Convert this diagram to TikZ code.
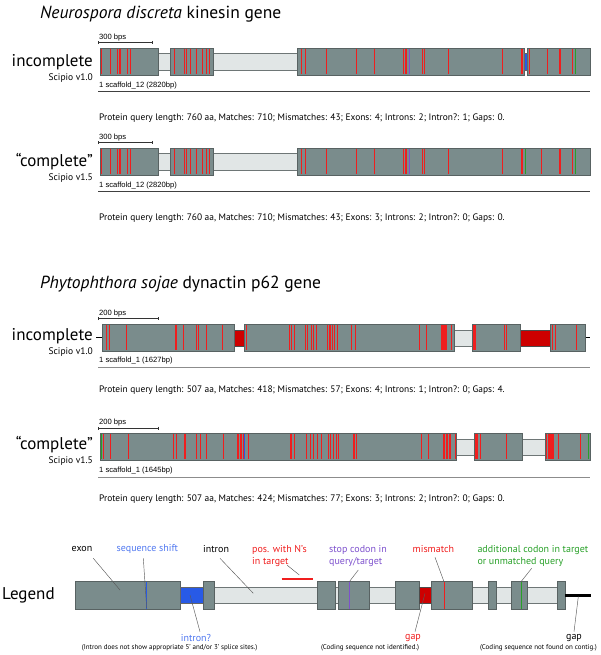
\documentclass[tikz,border=0pt]{standalone}
\usepackage{fontspec}
\setmainfont{PT Sans}
\newfontfamily\arialf{Liberation Sans}
\usetikzlibrary{arrows.meta}
\definecolor{exonc}{RGB}{122,140,140}
\definecolor{exonb}{RGB}{88,98,98}
\definecolor{intronc}{RGB}{225,230,230}
\definecolor{intronb}{RGB}{110,118,118}
\definecolor{mmred}{RGB}{240,30,30}
\definecolor{gapc}{RGB}{205,0,0}
\definecolor{qblue}{RGB}{40,90,230}
\definecolor{lblue}{RGB}{80,120,240}
\definecolor{stopc}{RGB}{125,80,205}
\definecolor{addg}{RGB}{40,160,40}
\definecolor{leadc}{RGB}{90,90,90}
\newcommand\mmlines[4][mm]{\foreach \xx in {#4} {\pgfmathsetmacro\xr{floor(\xx)+0.5}\draw[#1] (\xr,#2) -- (\xr,#3);}}
\tikzset{
  exon/.style={fill=exonc, draw=exonb, line width=0.6pt},
  intr/.style={fill=intronc, draw=intronb, line width=0.6pt},
  gapbox/.style={fill=gapc, draw=black!70, line width=0.5pt},
  qbox/.style={fill=qblue, draw=black!60, line width=0.4pt},
  mm/.style={draw=mmred, line width=1.6pt},
  stopl/.style={draw=stopc, line width=1.5pt},
  addl/.style={draw=addg, line width=1.5pt},
  shiftl/.style={draw=qblue, line width=1.2pt},
  scalebar/.style={draw=black!80, line width=0.6pt, {Bar[width=3pt]}-{Bar[width=3pt]}},
  scafd/.style={draw=black!75, line width=1pt},
  scafl/.style={draw=black!45, line width=1pt},
  lead/.style={draw=leadc, line width=0.45pt},
  small/.style={font=\arialf\fontsize{7.6}{9}\selectfont, inner sep=0pt, anchor=south west},
  gtitle/.style={font=\fontsize{17.5}{20}\selectfont, inner sep=0pt, anchor=west},
  vlabel/.style={font=\fontsize{17}{20}\selectfont, inner sep=0pt, anchor=east},
  vsub/.style={font=\fontsize{9.5}{11}\selectfont, inner sep=0pt, anchor=east},
  stats/.style={font=\fontsize{9.4}{11}\selectfont, inner sep=0pt, anchor=west},
  leg/.style={font=\fontsize{10}{12}\selectfont, inner sep=0pt, anchor=west, align=left},
  note/.style={font=\fontsize{7}{8}\selectfont, inner sep=0pt},
}
\begin{document}
\begin{tikzpicture}[x=1pt,y=-1pt]
\useasboundingbox (0,0) rectangle (600,655);

% ================= Section 1 =================
\node[gtitle] (t1) at (40,14) {\textit{Neurospora discreta} kinesin gene};

% ---- Track 1 ----
\node[vlabel] (l1) at (93,62) {incomplete};
\node[vsub] (s1) at (93,78) {Scipio v1.0};
\node[small] (bp1) at (99,41) {300 bps};
\draw[scalebar] (98,42.5) -- (153,42.5);
\draw[intr] (157,53) rectangle (297,70);
\draw[exon] (100,48) rectangle (158,75);
\draw[exon] (170,48) rectangle (213,75);
\draw[exon] (297,48) rectangle (524,75);
\draw[exon] (527,48) rectangle (590,75);
\draw[qbox] (524,53) rectangle (527,70);
\mmlines{48.6}{74.4}{101,110.7,117.3,119,120.7,127.3,130}
\mmlines{48.6}{74.4}{174,184.3,186.7,190,196,202.3,206.7,209}
\mmlines{48.6}{74.4}{301.7,305,326,356,374.3,403.3,405,406,422.7,424.3,448.3,502.3,521,522.7}
\mmlines[stopl]{48.6}{74.4}{409.3}
\mmlines{48.6}{74.4}{529,547.3,559.3,560.3,572.3}
\mmlines[addl]{48.6}{74.4}{575.7}
\node[small] (sc1) at (99,89) {1 scaffold\_12 (2820bp)};
\draw[scafd] (98,91.5) -- (590,91.5);
\node[stats] (p1) at (99,118) {Protein query length: 760 aa, Matches: 710; Mismatches: 43; Exons: 4; Introns: 2; Intron?: 1; Gaps: 0.};

% ---- Track 2 ----
\node[vlabel] (l2) at (93,162) {“complete”};
\node[vsub] (s2) at (93,178) {Scipio v1.5};
\node[small] (bp2) at (99,141) {300 bps};
\draw[scalebar] (98,142.5) -- (153,142.5);
\draw[intr] (157,153) rectangle (297,170);
\draw[exon] (100,148) rectangle (158,175);
\draw[exon] (170,148) rectangle (213,175);
\draw[exon] (297,148) rectangle (590,175);
\mmlines{148.6}{174.4}{101,110.7,117.3,119,120.7,127.3,130}
\mmlines{148.6}{174.4}{174,184.3,186.7,190,196,202.3,206.7,209}
\mmlines{148.6}{174.4}{301.7,305,326,356,374.3,403.3,405,406,422.7,424.3,448.3,502.3,521,522.7}
\mmlines[stopl]{148.6}{174.4}{409.3}
\mmlines[addl]{148.6}{174.4}{525.5}
\mmlines{148.6}{174.4}{541,559.3,560.3,572.3}
\mmlines[addl]{148.6}{174.4}{575.7}
\node[small] (sc2) at (99,189) {1 scaffold\_12 (2820bp)};
\draw[scafd] (98,191.5) -- (590,191.5);
\node[stats] (p2) at (99,218) {Protein query length: 760 aa, Matches: 710; Mismatches: 43; Exons: 3; Introns: 2; Intron?: 0; Gaps: 0.};

% ================= Section 2 =================
\node[gtitle] (t2) at (40,284) {\textit{Phytophthora sojae} dynactin p62 gene};

% ---- Track 3 ----
\node[vlabel] (l3) at (93,336) {incomplete};
\node[vsub] (s3) at (93,352) {Scipio v1.0};
\node[small] (bp3) at (99,317) {200 bps};
\draw[scalebar] (98,318.5) -- (159,318.5);
\draw[line width=1.5pt] (96,337.5) -- (102.7,337.5);
\draw[line width=1.5pt] (585.7,337.5) -- (590,337.5);
\draw[intr] (454,330) rectangle (472.3,346);
\draw[gapbox] (234,330) rectangle (244.6,346);
\draw[gapbox] (520,330) rectangle (550.7,346);
\draw[exon] (102.7,324) rectangle (234,351);
\draw[exon] (244.6,324) rectangle (454,351);
\draw[exon] (472.3,324) rectangle (520,351);
\draw[exon] (550.7,324) rectangle (585.7,351);
\mmlines{324.6}{350.4}{106,109,126.7,175,176.5,183.3,196,198.3,206,222.3}
\mmlines{324.6}{350.4}{246.7,289,291,294,305,307.3,311,313.3,316.7,327.3,329.3,330.7,332.7,334.3,337.3,351.7,355,419.3,426.7,441.7,442.7,443.7,444.7,445.7,446.7,451.7}
\mmlines{324.6}{350.4}{473.5,474.5,475.5,504.3,506.7}
\mmlines{324.6}{350.4}{552.3,555,576.7}
\node[small] (sc3) at (99,364.5) {1 scaffold\_1 (1627bp)};
\draw[scafl] (98,367) -- (590,367);
\node[stats] (p3) at (99,390) {Protein query length: 507 aa, Matches: 418; Mismatches: 57; Exons: 4; Introns: 1; Intron?: 0; Gaps: 4.};

% ---- Track 4 ----
\node[vlabel] (l4) at (93,445) {“complete”};
\node[vsub] (s4) at (93,461) {Scipio v1.5};
\node[small] (bp4) at (99,426.5) {200 bps};
\draw[scalebar] (98,428) -- (159,428);
\draw[intr] (456,439) rectangle (545,455);
\draw[exon] (100,433) rectangle (456,460);
\draw[exon] (474.3,433) rectangle (522.7,460);
\draw[exon] (545,433) rectangle (590,460);
\mmlines[addl]{433.6}{459.4}{101.5}
\mmlines{433.6}{459.4}{103.3,110.7,128.3,173.3,176,184.3,185.7,196.7,200,206.5,223.3,237,238.5,240,241.5,243,248.3,290,291.5,294,306.7,310,313.3,317.7,321.7,328.3,330.7,333.3,336,338.3,353,354,356,421.7,428.3,443,444.5,446,447.5,449,450,455}
\mmlines[shiftl]{433.6}{459.4}{244.6}
\mmlines{433.6}{459.4}{475,476,477,480,506.7}
\mmlines{433.6}{459.4}{546,548.5,549.5,550.5,551.5,552.5,553.3,558.3,580}
\mmlines[addl]{433.6}{459.4}{588.3}
\node[small] (sc4) at (99,474.5) {1 scaffold\_1 (1645bp)};
\draw[scafl] (98,477) -- (590,477);
\node[stats] (p4) at (99,499) {Protein query length: 507 aa, Matches: 424; Mismatches: 77; Exons: 3; Introns: 2; Intron?: 0; Gaps: 0.};

% ================= Legend =================
\node[vlabel, anchor=west] (lg) at (2,595) {Legend};
\draw[intr] (203,587.3) rectangle (557.3,603.3);
\draw[exon] (75,581.7) rectangle (180,609.3);
\draw[qbox] (180,587.3) rectangle (203.3,603.3);
\draw[exon] (203.3,581.7) rectangle (214.3,609.3);
\draw[exon] (317.3,581.7) rectangle (335.7,609.3);
\draw[exon] (338.3,581.7) rectangle (369,609.3);
\draw[exon] (395.7,581.7) rectangle (419,609.3);
\draw[gapbox] (419,587.3) rectangle (431,603.3);
\draw[exon] (431,581.7) rectangle (472.3,609.3);
\draw[exon] (488.3,581.7) rectangle (496.7,609.3);
\draw[exon] (511,581.7) rectangle (527.7,609.3);
\draw[exon] (557.3,581.7) rectangle (565,609.3);
\draw[line width=2.6pt] (565,595.6) -- (591,595.6);
\mmlines[shiftl]{582.3}{608.7}{146.7}
\mmlines[stopl]{582.3}{608.7}{349.3}
\mmlines{582.3}{608.7}{444}
\mmlines[addl]{582.3}{608.7}{521}
\draw[draw=mmred, line width=2.2pt] (281.7,579) -- (313.3,579);

\node[leg] (ex) at (71.5,549.3) {exon};
\node[leg, text=lblue] (ss) at (116.5,549.3) {sequence shift};
\node[leg] (in) at (203,549.3) {intron};
\node[leg, text=mmred] (pn) at (252,556) {pos. with N's\\in target};
\node[leg, text=stopc] (sc) at (329,556) {stop codon in\\query/target};
\node[leg, text=mmred] (mmt) at (412.5,549.3) {mismatch};
\node[leg, text=addg] (ad) at (477.3,556) {additional codon in target\\or unmatched query};
\node[leg, text=lblue, anchor=center] (iq) at (196,637.5) {intron?};
\node[note, anchor=west] (iqn) at (81.7,648) {(Intron does not show appropriate 5' and/or 3' splice sites.)};
\node[leg, text=mmred, anchor=center] (gp) at (413,637.5) {gap};
\node[note, anchor=center] (gpn) at (370,648) {(Coding sequence not identified.)};
\node[leg, anchor=center] (gp2) at (574,637.5) {gap};
\node[note, anchor=east] (gpn2) at (597,648) {(Coding sequence not found on contig.)};

\coordinate (exA) at (120,590);
\coordinate (ssA) at (146.7,608);
\coordinate (inA) at (253.3,593.3);
\coordinate (pnA) at (299.3,575);
\coordinate (scA) at (349.3,581.7);
\coordinate (mmA) at (444,581.7);
\coordinate (adA) at (521,581.7);
\coordinate (iqA) at (190,595);
\coordinate (gpA) at (425,593.3);
\coordinate (gp2A) at (578.3,596.7);
\draw[lead] (93.3,558.3) -- (exA);
\draw[lead] (143.3,558.3) -- (ssA);
\draw[lead] (220,558.3) -- (inA);
\draw[lead] (287.3,565.3) -- (pnA);
\draw[lead] (358.3,570) -- (scA);
\draw[lead] (435,557.3) -- (mmA);
\draw[lead] (531.7,568.3) -- (adA);
\draw[lead] (iqA) -- (200,631.7);
\draw[lead] (gpA) -- (415,631.7);
\draw[lead] (gp2A) -- (574,631.7);
\end{tikzpicture}
\end{document}
